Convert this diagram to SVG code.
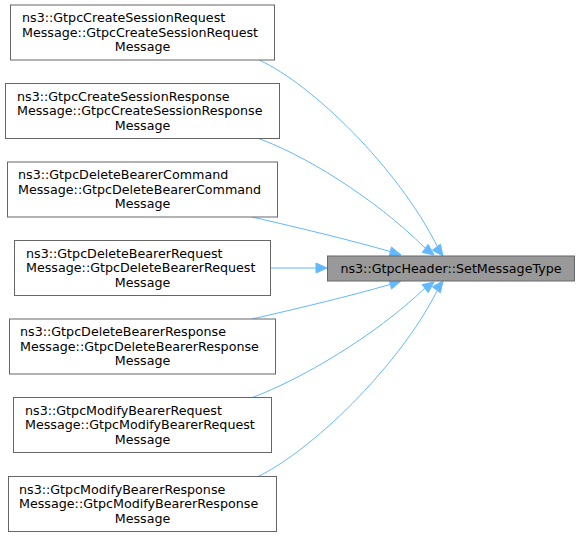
<svg xmlns="http://www.w3.org/2000/svg" width="580" height="537" viewBox="0 0 580 537">
<style>
.box{fill:#ffffff;stroke:#666666;stroke-width:1}
.main{fill:#999999;stroke:#666666;stroke-width:1}
text{font-family:"DejaVu Sans",sans-serif;font-size:12.7px;fill:#000000}
.e{fill:none;stroke:#63b8ff;stroke-width:1}
.ah{fill:#63b8ff;stroke:#63b8ff;stroke-width:1}
</style>
<rect width="580" height="537" fill="#ffffff"/>
<g id="edges">
<path class="e" d="M259,60 C312,84 398,168 437,246"/>
<polygon class="ah" points="432.4,250.2 440.4,244.2 443,256"/>
<path class="e" d="M254,137 C300,152 375,198 425,248"/>
<polygon class="ah" points="422.2,252.4 428.2,244.4 434,255"/>
<path class="e" d="M252,217 C300,228 350,240 390,251.5"/>
<polygon class="ah" points="389.1,256.6 391.5,247 401,255"/>
<path class="e" d="M271,268 L316,268"/>
<polygon class="ah" points="316,263 316,273 327,268"/>
<path class="e" d="M252,319 C300,308 350,296 390,284.5"/>
<polygon class="ah" points="389.1,279.4 391.5,289 401,281"/>
<path class="e" d="M251,398 C300,380 375,336 425,288"/>
<polygon class="ah" points="422.2,284.6 428.2,292.6 434,282"/>
<path class="e" d="M257,477 C310,452 398,368 437,291"/>
<polygon class="ah" points="432.4,286.8 440.4,292.8 443,281"/>
</g>
<g id="main">
<rect class="main" x="327.5" y="256" width="247" height="25"/>
<text x="451" y="272.5" text-anchor="middle">ns3::GtpcHeader::SetMessageType</text>
</g>
<g id="n1">
<rect class="box" x="10.5" y="5" width="264" height="55"/>
<text x="22" y="22">ns3::GtpcCreateSessionRequest</text>
<text x="22" y="36.5">Message::GtpcCreateSessionRequest</text>
<text x="142.5" y="51" text-anchor="middle">Message</text>
</g>
<g id="n2">
<rect class="box" x="5.5" y="83.5" width="274" height="55"/>
<text x="17" y="100.5">ns3::GtpcCreateSessionResponse</text>
<text x="17" y="115">Message::GtpcCreateSessionResponse</text>
<text x="142.5" y="129.5" text-anchor="middle">Message</text>
</g>
<g id="n3">
<rect class="box" x="7.5" y="162" width="270" height="55"/>
<text x="18" y="179">ns3::GtpcDeleteBearerCommand</text>
<text x="18" y="193.5">Message::GtpcDeleteBearerCommand</text>
<text x="142.5" y="208" text-anchor="middle">Message</text>
</g>
<g id="n4">
<rect class="box" x="14.5" y="240.5" width="256" height="55"/>
<text x="26" y="257.5">ns3::GtpcDeleteBearerRequest</text>
<text x="26" y="272">Message::GtpcDeleteBearerRequest</text>
<text x="142.5" y="286.5" text-anchor="middle">Message</text>
</g>
<g id="n5">
<rect class="box" x="9.5" y="319" width="266" height="55"/>
<text x="20" y="336">ns3::GtpcDeleteBearerResponse</text>
<text x="20" y="350.5">Message::GtpcDeleteBearerResponse</text>
<text x="142.5" y="365" text-anchor="middle">Message</text>
</g>
<g id="n6">
<rect class="box" x="13.5" y="397.5" width="258" height="55"/>
<text x="25" y="414.5">ns3::GtpcModifyBearerRequest</text>
<text x="25" y="429">Message::GtpcModifyBearerRequest</text>
<text x="142.5" y="443.5" text-anchor="middle">Message</text>
</g>
<g id="n7">
<rect class="box" x="8.5" y="476.5" width="268" height="55"/>
<text x="19" y="493.5">ns3::GtpcModifyBearerResponse</text>
<text x="19" y="508">Message::GtpcModifyBearerResponse</text>
<text x="142.5" y="522.5" text-anchor="middle">Message</text>
</g>
</svg>
